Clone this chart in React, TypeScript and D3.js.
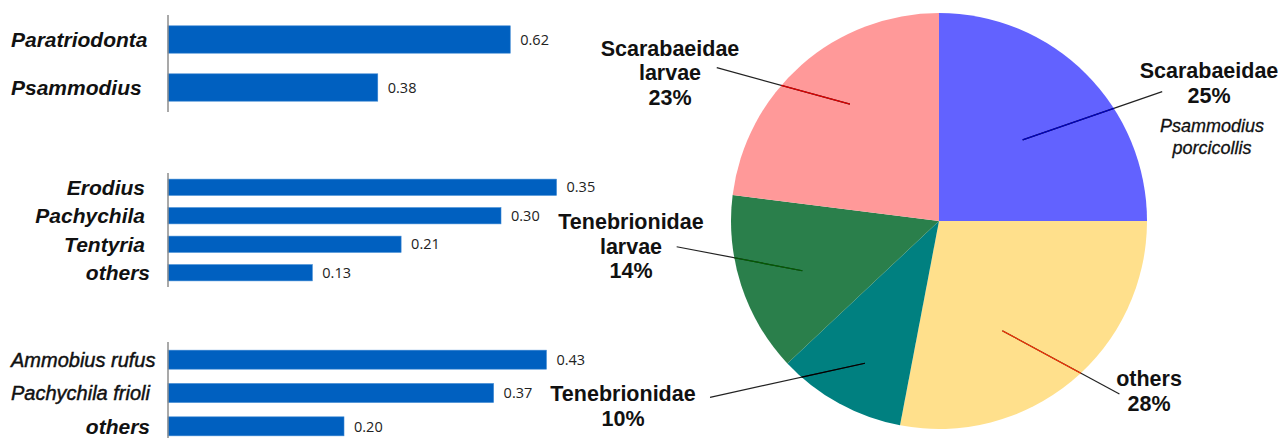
import React from 'react';
import * as d3 from 'd3';

// ---------- data ----------
const group1Names = ['Paratriodonta', 'Psammodius'];
const group1Values = [0.62, 0.38];
const group2Names = ['Erodius', 'Pachychila', 'Tentyria', 'others'];
const group2Values = [0.35, 0.3, 0.21, 0.13];
const group3Names = ['Ammobius rufus', 'Pachychila frioli', 'others'];
const group3Values = [0.43, 0.37, 0.2];

const pieNames = ['Scarabaeidae', 'others', 'Tenebrionidae', 'Tenebrionidae larvae', 'Scarabaeidae larvae'];
const pieValues = [25, 28, 10, 14, 23];
const pieNotes = ['Psammodius porcicollis', '', '', '', ''];

// ---------- layout / style ----------
const W = 1278;
const H = 438;
const AXIS_X = 168;
const BAR_COLOR = '#0060C0';

const barGroups = [
  { names: group1Names, values: group1Values, y0: 15.5, y1: 111.5, axisTop: 15, axisBottom: 112, pxPerUnit: 552,
    labelSize: 21, labelWeight: 'bold', anchors: ['start', 'start'], labelX: [11, 11] },
  { names: group2Names, values: group2Values, y0: 173, y1: 287, axisTop: 173, axisBottom: 287, pxPerUnit: 1110,
    labelSize: 21, labelWeight: 'bold', anchors: ['end', 'end', 'end', 'end'], labelX: [145, 145, 145, 150] },
  { names: group3Names, values: group3Values, y0: 343, y1: 443, axisTop: 342, axisBottom: 438, pxPerUnit: 880,
    labelSize: 20, labelWeight: ['normal', 'normal', 'bold'], anchors: ['start', 'start', 'end'], labelX: [11, 11, 150],
    sizes: [20, 20, 21] },
];

const PIE_CX = 939;
const PIE_CY = 221;
const PIE_R = 208;
const pieColors = ['#6262FF', '#FFE08C', '#008080', '#2A7F4B', '#FF9999'];
const leaderInnerColors = ['#0000C0', '#FF3300', '#000000', '#006000', '#E00000'];
// polar positions (deg clockwise from 12 o'clock, radius) for leader lines, and text centers
const pieLabelLayout = [
  { inA: 45.9, inR: 116.5, outA: 59.9, outR: 258, tx: 1209, ty: 70.7 },
  { inA: 150, inR: 126.7, outA: 133.8, outR: 250, tx: 1149, ty: 378.3 },
  { inA: 207.5, inR: 160.4, outA: 232.4, outR: 289, tx: 623, ty: 393.3 },
  { inA: 250, inR: 145.4, outA: 264.4, outR: 263.6, tx: 631, ty: 221.7 },
  { inA: 322.7, inR: 147, outA: 304.6, outR: 270, tx: 670, ty: 48 },
];
const LINE_H = 24.5;

function polar(aDeg: number, r: number): [number, number] {
  const a = (aDeg * Math.PI) / 180;
  return [PIE_CX + r * Math.sin(a), PIE_CY - r * Math.cos(a)];
}

const FONT = '"Liberation Sans", Arial, sans-serif';
const VAL_FONT = '"Open Sans", "Liberation Sans", sans-serif';

export default function App() {
  const pie = d3.pie<number>().sort(null).value((d) => d)(pieValues);
  const arc = d3.arc<d3.PieArcDatum<number>>().innerRadius(0).outerRadius(PIE_R);

  return (
    <svg width={W} height={H} style={{ position: 'absolute', left: 0, top: 0, background: '#fff' }}>
      <rect x={0} y={0} width={W} height={H} fill="#fff" />
      {barGroups.map((g, gi) => {
        const y = d3.scaleBand<string>().domain(g.names).range([g.y0, g.y1]).paddingInner(0.43).paddingOuter(0.215);
        const x = d3.scaleLinear().domain([0, 1]).range([AXIS_X, AXIS_X + g.pxPerUnit]);
        return (
          <g key={gi}>
            {g.names.map((n, i) => {
              const yy = y(n) as number;
              const bw = y.bandwidth();
              const xe = x(g.values[i]);
              const cy = yy + bw / 2;
              const weight = Array.isArray(g.labelWeight) ? g.labelWeight[i] : g.labelWeight;
              const size = g.sizes ? g.sizes[i] : g.labelSize;
              return (
                <g key={n + i}>
                  <rect x={x(0)} y={yy} width={xe - x(0)} height={bw} fill={BAR_COLOR} stroke="#3A86D2" strokeWidth={0.6} />
                  <text x={xe + 10} y={cy} dy="0.36em" fontFamily={VAL_FONT} fontSize={14.5} fill="#222">
                    {g.values[i].toFixed(2)}
                  </text>
                  <text x={g.labelX[i]} y={cy} dy="0.35em" textAnchor={g.anchors[i] as any} fontFamily={FONT}
                    fontStyle="italic" fontWeight={weight} fontSize={size} fill="#111"
                    stroke={weight === 'normal' ? '#111' : 'none'} strokeWidth={0.45}>
                    {n}
                  </text>
                </g>
              );
            })}
            <line x1={AXIS_X} x2={AXIS_X} y1={g.axisTop} y2={g.axisBottom} stroke="#8c8c8c" strokeWidth={1.5} />
          </g>
        );
      })}

      <g transform={`translate(${PIE_CX},${PIE_CY})`}>
        {pie.map((s, i) => (
          <path key={i} d={arc(s) as string} fill={pieColors[i]} />
        ))}
      </g>

      {pie.map((s, i) => {
        const L = pieLabelLayout[i];
        const [x1, y1] = polar(L.inA, L.inR);
        const [x2, y2] = polar(L.outA, L.outR);
        // crossing of the leader with the pie rim
        const dx = x2 - x1, dy = y2 - y1;
        const fx = x1 - PIE_CX, fy = y1 - PIE_CY;
        const A = dx * dx + dy * dy, B = 2 * (fx * dx + fy * dy), C = fx * fx + fy * fy - PIE_R * PIE_R;
        const t = (-B + Math.sqrt(B * B - 4 * A * C)) / (2 * A);
        const xc = x1 + t * dx, yc = y1 + t * dy;
        const lines = pieNames[i].split(' ').concat([`${pieValues[i]}%`]);
        const notes = pieNotes[i] ? pieNotes[i].split(' ') : [];
        return (
          <g key={'l' + i}>
            <line x1={x1} y1={y1} x2={x2} y2={y2} stroke="#222" strokeWidth={1.2} />
            <line x1={x1} y1={y1} x2={xc} y2={yc} stroke={leaderInnerColors[i]} strokeWidth={1.2} />
            {lines.map((ln, k) => (
              <text key={k} x={L.tx} y={L.ty + k * LINE_H} dy="0.36em" textAnchor="middle" fontFamily={FONT}
                fontWeight="bold" fontSize={21.5} fill="#111">
                {ln}
              </text>
            ))}
            {notes.map((ln, k) => (
              <text key={'n' + k} x={L.tx + 3} y={L.ty + lines.length * LINE_H + 6 + k * 22.3} dy="0.36em"
                textAnchor="middle" fontFamily={FONT} fontStyle="italic" fontSize={18} fill="#111"
                stroke="#111" strokeWidth={0.3}>
                {ln}
              </text>
            ))}
          </g>
        );
      })}
    </svg>
  );
}
